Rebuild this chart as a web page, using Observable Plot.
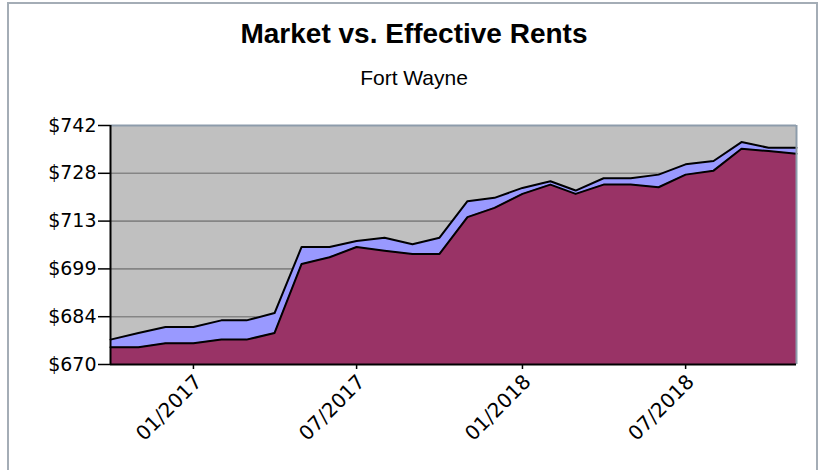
<!DOCTYPE html>
<html>
<head>
<meta charset="utf-8">
<script src="https://cdn.jsdelivr.net/npm/d3@7"></script>
<script src="https://cdn.jsdelivr.net/npm/@observablehq/plot@0.6"></script>
<style>
  html, body { margin: 0; padding: 0; background: #fff; }
  #wrap { position: relative; width: 826px; height: 470px; overflow: hidden; }
  #frame { position: absolute; left: 7px; top: 2px; width: 811px; height: 520px; border: 2px solid #a4adb6; box-sizing: border-box; }
  #title { position: absolute; left: 0; width: 828px; top: 20px; text-align: center; font: bold 28px "Liberation Sans", Arial, sans-serif; line-height: 28px; color: #000; }
  #subtitle { position: absolute; left: 0; width: 828px; top: 67px; text-align: center; font: 21px "Liberation Sans", Arial, sans-serif; line-height: 21px; color: #000; }
  #chart { position: absolute; left: 0; top: 100px; }
</style>
</head>
<body>
<div id="wrap">
  <div id="frame"></div>
  <div id="title">Market vs. Effective Rents</div>
  <div id="subtitle">Fort Wayne</div>
  <div id="chart"></div>
</div>
<script>
const months = ["2016-10","2016-11","2016-12","2017-01","2017-02","2017-03","2017-04","2017-05","2017-06","2017-07","2017-08","2017-09","2017-10","2017-11","2017-12","2018-01","2018-02","2018-03","2018-04","2018-05","2018-06","2018-07","2018-08","2018-09","2018-10","2018-11"];
const market = [677.5, 679.5, 681.3, 681.3, 683.3, 683.3, 685.5, 705.4, 705.4, 707.2, 708.2, 706.2, 708.2, 719.2, 720.2, 723.2, 725.2, 722.4, 726.1, 726.1, 727.2, 730.3, 731.3, 737.0, 735.3, 735.3];
const effective = [675.2, 675.2, 676.4, 676.4, 677.5, 677.5, 679.5, 700.3, 702.3, 705.4, 704.3, 703.3, 703.3, 714.4, 717.2, 721.4, 724.2, 721.4, 724.2, 724.2, 723.4, 727.2, 728.4, 735.0, 734.3, 733.5];
const yTicks = [670, 684.4, 698.8, 713.2, 727.6, 742];
const xTickLabels = ["01/2017", "07/2017", "01/2018", "07/2018"];

const toDate = m => new Date(m + "-01T00:00:00Z");
const rows = months.map((m, i) => ({date: toDate(m), market: market[i], effective: effective[i]}));
const xTicks = xTickLabels.map(s => { const [mm, yy] = s.split("/"); return new Date(Date.UTC(+yy, +mm - 1, 1)); });
const x0 = rows[0].date, x1 = rows[rows.length - 1].date;
const yMin = yTicks[0], yMax = yTicks[yTicks.length - 1];

const chart = Plot.plot({
  width: 826,
  height: 370,
  marginTop: 25,
  marginBottom: 106,
  marginLeft: 110,
  marginRight: 30,
  style: {fontFamily: "'DejaVu Sans', sans-serif", background: "transparent", overflow: "visible"},
  x: {type: "utc", domain: [x0, x1]},
  y: {domain: [yMin, yMax]},
  marks: [
    Plot.frame({fill: "#C0C0C0", stroke: "none"}),
    Plot.ruleY(yTicks.slice(1, -1), {stroke: "#858585", strokeWidth: 1.6}),
    Plot.areaY(rows, {x: "date", y1: () => yMin, y2: "market", fill: "#9999FF", curve: "linear"}),
    Plot.areaY(rows, {x: "date", y1: () => yMin, y2: "effective", fill: "#993366", curve: "linear"}),
    Plot.lineY(rows, {x: "date", y: "market", stroke: "#000", strokeWidth: 2}),
    Plot.lineY(rows, {x: "date", y: "effective", stroke: "#000", strokeWidth: 2}),
    Plot.ruleY([yMax], {stroke: "#8d9cab", strokeWidth: 2}),
    Plot.ruleX([x1], {stroke: "#8d9cab", strokeWidth: 2}),
    Plot.ruleX([x0], {stroke: "#000", strokeWidth: 2}),
    Plot.ruleY([yMin], {stroke: "#000", strokeWidth: 2}),
    Plot.axisY({ticks: yTicks, tickFormat: d => "$" + Math.round(d), tickSize: 12, tickPadding: 2, fontSize: 19, stroke: "#000", strokeWidth: 1.5, color: "#000"}),
    Plot.axisX({ticks: xTicks, tickSize: 5, text: null, stroke: "#000", strokeWidth: 1.5}),
    Plot.axisX({ticks: xTicks, tickFormat: d => d3.utcFormat("%m/%Y")(d), tickSize: 0, tickPadding: 14, tickRotate: -45, fontSize: 20, dx: 5, color: "#000"})
  ]
});
document.getElementById("chart").appendChild(chart);
</script>
</body>
</html>
